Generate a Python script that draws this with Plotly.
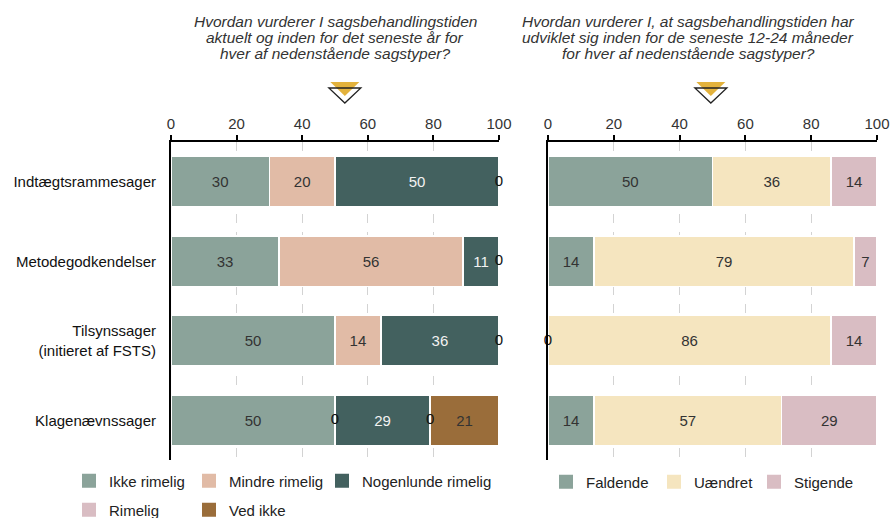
import plotly.graph_objects as go

VIEW_W, VIEW_H = 891, 518
OFF = 0  # page body margin removed via post_script
W, H = VIEW_W - OFF, VIEW_H - OFF

categories = ["Indtægtsrammesager", "Metodegodkendelser", "Tilsynssager<br>(initieret af FSTS)", "Klagenævnssager"]

# Left chart series
left_names = ["Ikke rimelig", "Mindre rimelig", "Nogenlunde rimelig", "Rimelig", "Ved ikke"]
ikke_rimelig = [30, 33, 50, 50]
mindre_rimelig = [20, 56, 14, 0]
nogenlunde_rimelig = [50, 11, 36, 29]
rimelig = [0, 0, 0, 0]
ved_ikke = [None, None, None, 21]
left_values = [ikke_rimelig, mindre_rimelig, nogenlunde_rimelig, rimelig, ved_ikke]
left_colors = ["#8BA39A", "#E1BBA6", "#43615F", "#D9BDC3", "#9A6D3A"]
left_text_colors = ["#333333", "#333333", "#F2F2F2", "#333333", "#333333"]

# Right chart series
right_names = ["Faldende", "Uændret", "Stigende"]
faldende = [50, 14, 0, 14]
uaendret = [36, 79, 86, 57]
stigende = [14, 7, 14, 29]
right_values = [faldende, uaendret, stigende]
right_colors = ["#8BA39A", "#F5E5BF", "#D9BDC3"]
right_text_colors = ["#333333", "#333333", "#333333"]

# Average markers (triangles)
left_marker = 53
right_marker = 49.5

x_ticks = [0, 20, 40, 60, 80, 100]

left_title_lines = ["Hvordan vurderer I sagsbehandlingstiden",
                    "aktuelt og inden for det seneste år for",
                    "hver af nedenstående sagstyper?"]
right_title_lines = ["Hvordan vurderer I, at sagsbehandlingstiden har",
                     "udviklet sig inden for de seneste 12-24 måneder",
                     "for hver af nedenstående sagstyper?"]

FONT = "Liberation Sans, Arial, sans-serif"
FS = 15

# screen-pixel layout
LX0, LX1 = 171, 499
RX0, RX1 = 548, 877
YT, YB = 142, 460


def px_x(p):
    return (p - OFF) / W


def px_y(p):
    return 1 - (p - OFF) / H


fig = go.Figure()


def add_stack(names, values, colors, tcolors, xa, ya):
    for name, vals, col, tc in zip(names, values, colors, tcolors):
        fig.add_trace(go.Bar(
            name=name, y=categories, x=vals, orientation="h",
            marker=dict(color=col, line=dict(color="white", width=1.5)),
            text=[("" if v is None or v == 0 else str(v)) for v in vals],
            textposition="inside", insidetextanchor="middle",
            textfont=dict(size=FS, color=tc, family=FONT),
            width=0.64, xaxis=xa, yaxis=ya, showlegend=False,
            hoverinfo="skip",
        ))
    # zero labels at segment start
    cum = [0] * len(categories)
    zx, zy = [], []
    for vals in values:
        for i, v in enumerate(vals):
            if v is None:
                continue
            if v == 0:
                zx.append(cum[i])
                zy.append(categories[i])
            cum[i] += v
    fig.add_trace(go.Scatter(
        x=zx, y=zy, mode="text", text=["0"] * len(zx),
        textfont=dict(size=FS, color="#111111", family=FONT),
        xaxis=xa, yaxis=ya, showlegend=False, cliponaxis=False, hoverinfo="skip",
    ))


add_stack(left_names, left_values, left_colors, left_text_colors, "x", "y")
add_stack(right_names, right_values, right_colors, right_text_colors, "x2", "y2")

# legend proxies, each in its own legend for exact placement
legend_specs = [
    ("Ikke rimelig", left_colors[0], 89, 481),
    ("Mindre rimelig", left_colors[1], 209, 481),
    ("Nogenlunde rimelig", left_colors[2], 342, 481),
    ("Rimelig", left_colors[3], 89, 510),
    ("Ved ikke", left_colors[4], 209, 510),
    ("Faldende", right_colors[0], 566, 482),
    ("Uændret", right_colors[1], 674, 482),
    ("Stigende", right_colors[2], 774, 482),
]
legend_layouts = {}
for k, (name, col, cx, cy) in enumerate(legend_specs):
    lname = "legend" if k == 0 else f"legend{k+1}"
    fig.add_trace(go.Scatter(
        x=[None], y=[None], mode="markers", name=name,
        marker=dict(symbol="square", size=14, color=col),
        legend=lname, showlegend=True, xaxis="x", yaxis="y",
    ))
    legend_layouts[lname] = dict(
        x=px_x(cx - 20), y=px_y(cy), xanchor="left", yanchor="middle",
        bgcolor="rgba(0,0,0,0)", borderwidth=0,
        font=dict(size=FS, color="#222222", family=FONT),
    )

axis_common_x = dict(
    range=[0, 100], tickvals=x_ticks, side="top", showline=True, linecolor="black",
    linewidth=2, ticks="outside", ticklen=5, tickwidth=1.5, tickcolor="black",
    showgrid=True, gridcolor="#D3D3D3", griddash="dash", gridwidth=1, zeroline=False,
    tickfont=dict(size=FS, color="#333333", family=FONT), fixedrange=True,
    automargin=False,
)
axis_common_y = dict(
    type="category", categoryorder="array", categoryarray=categories,
    range=[3.5, -0.5], showline=True, linecolor="black", linewidth=2,
    showgrid=False, zeroline=False, ticks="", automargin=False,
    domain=[px_y(YB), px_y(YT)],
)


# triangle markers as shapes computed from marker values
def tri(val, axis_px, xref, top, apex, half_px, fill, line):
    hw = half_px / axis_px * 100
    path = (f"M {val - hw},{px_y(top)} L {val + hw},{px_y(top)} "
            f"L {val},{px_y(apex)} Z")
    return dict(type="path", path=path, xref=xref, yref="paper",
                fillcolor=fill, line=line, layer="above")


shapes = []
for val, axpx, xr in [(left_marker, LX1 - LX0, "x"), (right_marker, RX1 - RX0, "x2")]:
    shapes.append(tri(val, axpx, xr, 82, 96, 14.5, "#E3B23C", dict(width=0)))
    shapes.append(tri(val, axpx, xr, 88, 103, 16, "rgba(0,0,0,0)", dict(color="#222222", width=1.3)))

annotations = []
for lines, cx in [(left_title_lines, 335), (right_title_lines, 688)]:
    for line, cy in zip(lines, [21.5, 37.5, 53.5]):
        annotations.append(dict(
            text=f"<i>{line}</i>", x=px_x(cx), y=px_y(cy), xref="paper", yref="paper",
            showarrow=False, xanchor="center", yanchor="middle",
            font=dict(size=15.5, color="#333333", family=FONT)))

fig.update_layout(
    width=W, height=H, margin=dict(l=0, r=0, t=0, b=0, autoexpand=False),
    paper_bgcolor="white", plot_bgcolor="white",
    barmode="stack", font=dict(family=FONT, size=FS, color="#222222"),
    xaxis=dict(domain=[px_x(LX0), px_x(LX1)], anchor="y", **axis_common_x),
    xaxis2=dict(domain=[px_x(RX0), px_x(RX1)], anchor="y2", **axis_common_x),
    yaxis=dict(anchor="x", showticklabels=True, ticklabelstandoff=10,
               tickfont=dict(size=FS, color="#111111", family=FONT), **axis_common_y),
    yaxis2=dict(anchor="x2", showticklabels=False, **axis_common_y),
    shapes=shapes,
    annotations=annotations,
    **legend_layouts,
)

fig.write_html("out.html",
               config={"displayModeBar": False},
               post_script="document.body.style.margin='0';document.body.style.overflow='hidden';")
